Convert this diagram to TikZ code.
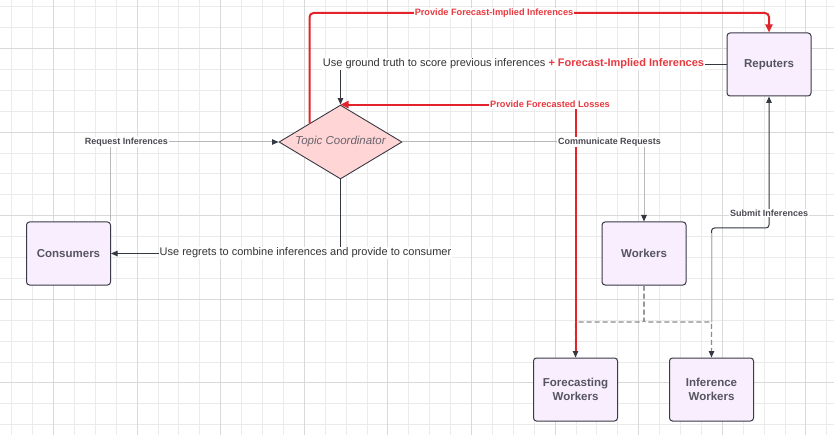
\documentclass[tikz,border=0pt]{standalone}
\usepackage{fontspec}
\setmainfont{Liberation Sans}
\usetikzlibrary{shapes.geometric,arrows.meta}
\definecolor{gridminor}{HTML}{EBEBEB}
\definecolor{gridmajor}{HTML}{D9D9D9}
\definecolor{boxfill}{HTML}{F8EEFE}
\definecolor{boxline}{HTML}{3A3A46}
\definecolor{boxtext}{HTML}{56545F}
\definecolor{diafill}{HTML}{FFD5D5}
\definecolor{diatext}{HTML}{6A636E}
\definecolor{darkline}{HTML}{333842}
\definecolor{lightline}{HTML}{B8B8B8}
\definecolor{dashline}{HTML}{8C8C8C}
\definecolor{redline}{HTML}{E3232B}
\definecolor{redtext}{HTML}{E8393F}
\definecolor{lbltext}{HTML}{4A4A52}
\definecolor{bodytext}{HTML}{333333}
\begin{document}
\begin{tikzpicture}[x=1pt,y=-1pt,
  box/.style={draw=boxline,fill=boxfill,line width=1pt,rounded corners=3pt,
    minimum width=84pt,minimum height=63pt,inner sep=0pt,align=center,
    text=boxtext,font=\fontsize{11.5}{14}\selectfont\bfseries},
  dia/.style={diamond,aspect=1.662,draw=boxline,fill=diafill,line width=0.9pt,
    minimum width=123pt,minimum height=74pt,inner sep=0pt,
    text=diatext,font=\fontsize{11.5}{14}\selectfont\itshape},
  darkconn/.style={draw=darkline,line width=1pt},
  lightconn/.style={draw=lightline,line width=1pt},
  dashconn/.style={draw=dashline,line width=1.1pt,dash pattern=on 5pt off 3pt},
  redconn/.style={draw=redline,line width=2pt},
  darktip/.style={-{Triangle[length=6.5pt,width=5.5pt,color=darkline]}},
  redtip/.style={-{Triangle[length=8pt,width=7pt,color=redline]}},
  lbl/.style={fill=white,inner sep=1pt,text=lbltext,font=\fontsize{9}{10}\selectfont\bfseries},
  redlbl/.style={fill=white,inner sep=1pt,text=redtext,font=\fontsize{9.2}{10}\selectfont\bfseries},
  bodylbl/.style={fill=white,inner sep=1pt,text=bodytext,font=\fontsize{11}{13}\selectfont},
  gmin/.style={draw=gridminor,line width=0.9pt},
  gmaj/.style={draw=gridmajor,line width=0.9pt}
]
\useasboundingbox (0,0) rectangle (834,435);
\fill[white] (0,0) rectangle (834,435);
% grid
\foreach \k in {0,...,39} \draw[gmin] ({11.7+20.9*\k},0) -- ({11.7+20.9*\k},435);
\foreach \k in {0,...,20} \draw[gmin] (0,{6.7+20.9*\k}) -- (834,{6.7+20.9*\k});
\foreach \k in {2,6,...,38} \draw[gmaj] ({11.7+20.9*\k},0) -- ({11.7+20.9*\k},435);
\foreach \k in {2,6,...,18} \draw[gmaj] (0,{6.7+20.9*\k}) -- (834,{6.7+20.9*\k});

% nodes
\node[box] (rep) at (769,64.5) {Reputers};
\node[box] (wk) at (644,253.5) {Workers};
\node[box] (cons) at (68.5,253.5) {Consumers};
\node[box] (fw) at (575.5,389.5) {Forecasting\\Workers};
\node[box] (iw) at (711.5,389.5) {Inference\\Workers};
\node[dia] (tc) at (340.5,142) {Topic Coordinator};

% helper coordinates
\coordinate (ty) at (0,13);
\coordinate (sy) at (0,228);
\coordinate (sy2) at (0,233);
\coordinate (dy) at (0,322);
\coordinate (sj) at (711.5,322);

% connectors
\draw[lightconn,darktip] ([xshift=-1pt]cons.north east) |- (tc.west);
\draw[lightconn,darktip] (tc.east) -| (wk.north);
\draw[darkconn,darktip] (tc.south) |- (cons.east);
\draw[darkconn,darktip] (rep.west) -| (tc.north);
\draw[darkconn,darktip,rounded corners=3pt] (sj) -- (sj |- sy) -- (rep.south |- sy) -- (rep.south);
\draw[lightconn] (sj) -- (sj |- sy2);
\draw[dashconn,darktip,rounded corners=2pt] (wk.south) -- (wk.south |- dy) -- (fw.north |- dy) -- (fw.north);
\draw[dashconn,darktip,rounded corners=2pt] (wk.south) -- (wk.south |- dy) -- (iw.north |- dy) -- (iw.north);
\draw[redconn,redtip,rounded corners=4pt] (tc.north west) -- (tc.north west |- ty) -- (rep.north |- ty) -- (rep.north);
\draw[redconn,redtip] ([yshift=7pt]fw.north) |- (tc.north);

% labels
\node[lbl] (l1) at (126.5,142) {Request Inferences};
\node[lbl] (l2) at (609.5,142) {Communicate Requests};
\node[lbl] (l3) at (769,213) {Submit Inferences};
\node[redlbl] (l4) at (494,13) {Provide Forecast-Implied Inferences};
\node[redlbl] (l5) at (550,104.5) {Provide Forecasted Losses};
\node[bodylbl] (l6) at (513.5,64) {Use ground truth to score previous inferences \textcolor{redtext}{\bfseries + Forecast-Implied Inferences}};
\node[bodylbl] (l7) at (305.5,253) {Use regrets to combine inferences and provide to consumer};
\end{tikzpicture}
\end{document}
